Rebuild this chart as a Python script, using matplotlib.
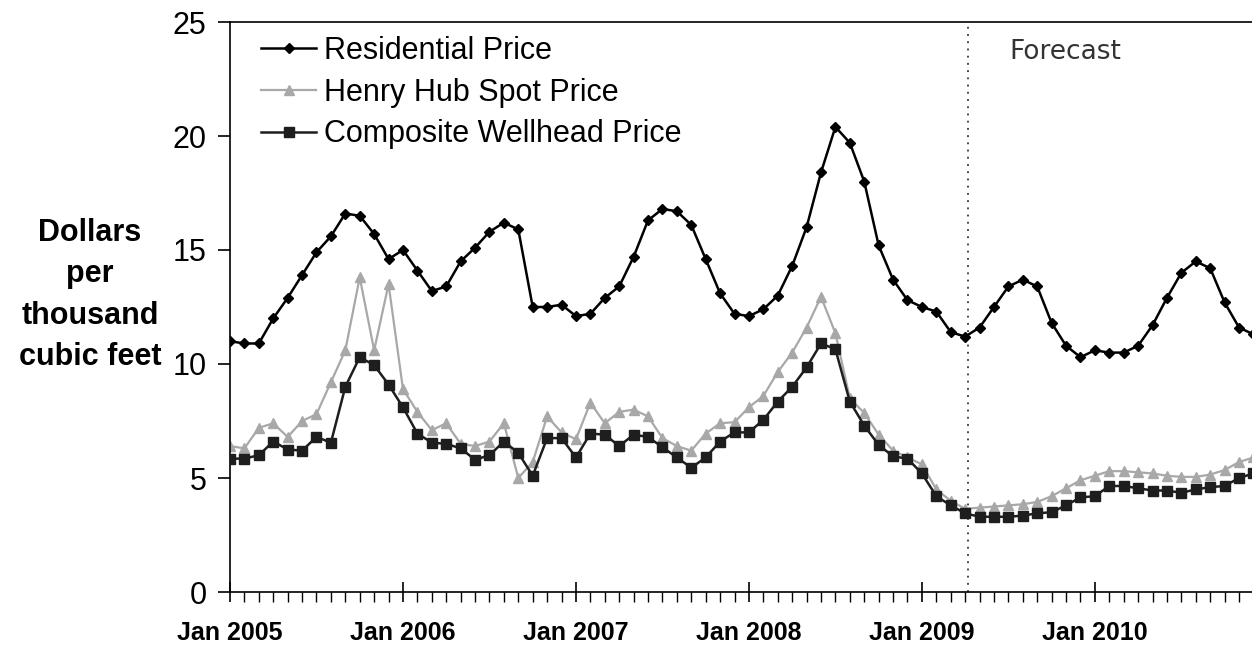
import numpy as np
import matplotlib
matplotlib.use("Agg")
import matplotlib.pyplot as plt
from matplotlib.ticker import MultipleLocator

# monthly, Jan 2005 .. Dec 2010
residential = [11.0, 10.9, 10.9, 12.0, 12.9, 13.9, 14.9, 15.6, 16.6, 16.5, 15.7, 14.6,
               15.0, 14.1, 13.2, 13.4, 14.5, 15.1, 15.8, 16.2, 15.9, 12.5, 12.5, 12.6,
               12.1, 12.2, 12.9, 13.4, 14.7, 16.3, 16.8, 16.7, 16.1, 14.6, 13.1, 12.2,
               12.1, 12.4, 13.0, 14.3, 16.0, 18.4, 20.4, 19.7, 18.0, 15.2, 13.7, 12.8,
               12.5, 12.3, 11.4, 11.2, 11.6, 12.5, 13.4, 13.7, 13.4, 11.8, 10.8, 10.3,
               10.6, 10.5, 10.5, 10.8, 11.7, 12.9, 14.0, 14.5, 14.2, 12.7, 11.6, 11.3]
henry_hub = [6.4, 6.3, 7.2, 7.4, 6.8, 7.5, 7.8, 9.2, 10.6, 13.8, 10.6, 13.5,
             8.9, 7.9, 7.1, 7.4, 6.5, 6.4, 6.6, 7.4, 5.0, 5.7, 7.7, 7.0,
             6.7, 8.3, 7.4, 7.9, 8.0, 7.7, 6.75, 6.4, 6.2, 6.95, 7.4, 7.45,
             8.1, 8.6, 9.65, 10.5, 11.6, 12.95, 11.35, 8.5, 7.85, 6.9, 6.2, 5.9,
             5.6, 4.5, 4.0, 3.65, 3.7, 3.75, 3.8, 3.85, 3.95, 4.2, 4.55, 4.9,
             5.1, 5.3, 5.3, 5.25, 5.2, 5.1, 5.05, 5.05, 5.15, 5.35, 5.7, 5.9]
wellhead = [5.85, 5.85, 6.0, 6.6, 6.25, 6.2, 6.8, 6.55, 9.0, 10.3, 9.95, 9.1,
            8.1, 6.95, 6.55, 6.5, 6.3, 5.8, 6.0, 6.6, 6.1, 5.1, 6.75, 6.75,
            5.9, 6.95, 6.9, 6.4, 6.9, 6.8, 6.35, 5.9, 5.45, 5.9, 6.6, 7.0,
            7.0, 7.55, 8.35, 9.0, 9.85, 10.9, 10.65, 8.35, 7.3, 6.45, 5.95, 5.85,
            5.2, 4.2, 3.8, 3.45, 3.3, 3.3, 3.3, 3.35, 3.45, 3.5, 3.8, 4.15,
            4.2, 4.65, 4.65, 4.55, 4.45, 4.45, 4.35, 4.5, 4.6, 4.65, 5.0, 5.2]
year_labels = ["Jan 2005", "Jan 2006", "Jan 2007", "Jan 2008", "Jan 2009", "Jan 2010"]
forecast_start = 51.2

months = np.arange(len(residential))

plt.rcParams['font.family'] = ['Liberation Sans', 'DejaVu Sans']

fig = plt.figure(figsize=(12.52, 6.48), dpi=100)
ax = fig.add_axes([230 / 1252, 1 - 592 / 648, 1022 / 1252, 570 / 648])

ax.plot(months, henry_hub, color='#a8a8a8', lw=1.6, marker='^', ms=7,
        label='Henry Hub Spot Price', zorder=2)
ax.plot(months, wellhead, color='#1e1e1e', lw=1.8, marker='s', ms=7.5,
        label='Composite Wellhead Price', zorder=3)
ax.plot(months, residential, color='black', lw=1.8, marker='D', ms=5.5,
        label='Residential Price', zorder=4)

ax.axvline(forecast_start, color='#333333', lw=1.3, ls=(0, (1, 3)), zorder=1)
ax.text(forecast_start + 2.9, 23.7, 'Forecast', fontsize=19, color='#333333',
        family='DejaVu Sans', va='center', ha='left')

ax.set_xlim(0, 70.9)
ax.set_ylim(0, 25)
ax.set_yticks(range(0, 26, 5))
ax.tick_params(axis='y', direction='out', length=9, width=1.2, labelsize=22, pad=8)
ax.set_xticks(range(0, 72, 12))
ax.set_xticklabels(year_labels, fontsize=18, fontweight='bold')
ax.xaxis.set_minor_locator(MultipleLocator(1))
ax.tick_params(axis='x', which='major', direction='inout', length=14, width=1.2, pad=14)
ax.tick_params(axis='x', which='minor', direction='out', length=7, width=1.0)
ax.spines['right'].set_visible(False)
for s in ['left', 'bottom', 'top']:
    ax.spines[s].set_linewidth(1.2)

handles, labels = ax.get_legend_handles_labels()
order = [2, 0, 1]
ax.legend([handles[i] for i in order], [labels[i] for i in order],
          loc='upper left', bbox_to_anchor=(31 / 1022, 1 - 14 / 570), frameon=False,
          fontsize=22, handlelength=1.8, handletextpad=0.25, labelspacing=0.38,
          borderpad=0, borderaxespad=0)

fig.text(90 / 1252, 1 - 295 / 648, 'Dollars\nper\nthousand\ncubic feet',
         ha='center', va='center', multialignment='center', fontsize=22,
         fontweight='bold', linespacing=1.5)

fig.savefig('out.png', dpi=100)
